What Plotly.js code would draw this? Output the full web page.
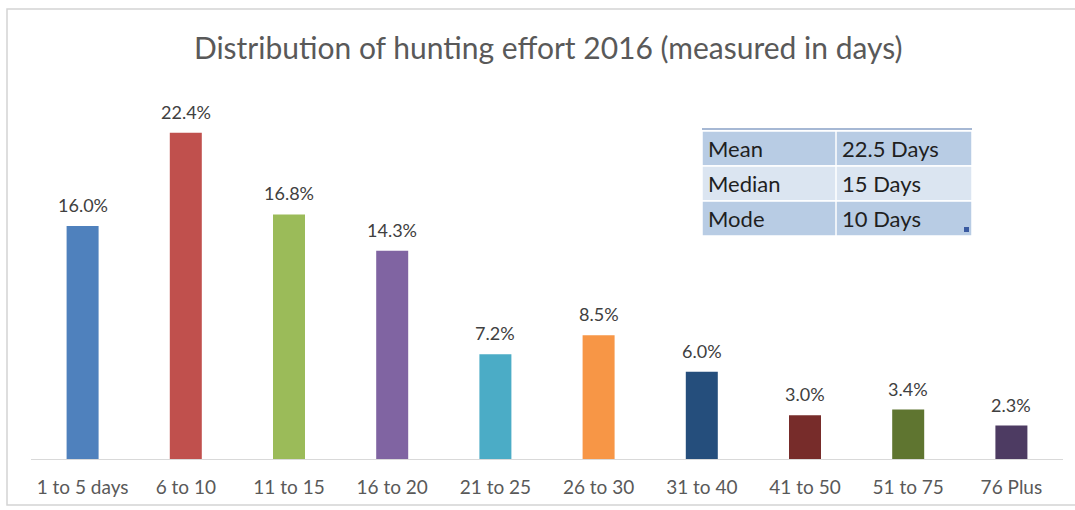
<!DOCTYPE html>
<html>
<head>
<meta charset="utf-8">
<script src="https://cdn.plot.ly/plotly-3.0.1.min.js"></script>
<style>html,body{margin:0;padding:0;background:#fff;}#chart{width:1075px;height:510px;}</style>
</head>
<body>
<div id="chart"></div>
<script>
const categories = ["1 to 5 days","6 to 10","11 to 15","16 to 20","21 to 25","26 to 30","31 to 40","41 to 50","51 to 75","76 Plus"];
const shares = [16.0, 22.4, 16.8, 14.3, 7.2, 8.5, 6.0, 3.0, 3.4, 2.3];
const barColors = ["#4f81bd","#c0504d","#9bbb59","#8064a2","#4bacc6","#f79646","#254e7c","#772c2a","#5f7530","#4d3b62"];
const statLabels = ["Mean","Median","Mode"];
const statValues = ["22.5 Days","15 Days","10 Days"];

const W = 1075, H = 510;
const M = {l: 31, r: 12, t: 100, b: 51};
const PW = W - M.l - M.r, PH = H - M.t - M.b;
const px = x => (x - M.l) / PW;
const py = y => (H - M.b - y) / PH;

const FONT = "Lato, 'Open Sans', sans-serif";

const trace = {
  type: "bar",
  x: categories,
  y: shares,
  marker: {color: barColors},
  hoverinfo: "x+y",
  cliponaxis: false
};

const annotations = categories.map((c, i) => ({
  x: c, y: shares[i], xref: "x", yref: "y",
  text: shares[i].toFixed(1) + "%",
  showarrow: false, yanchor: "bottom", yshift: 8,
  font: {family: FONT, size: 18, color: "#404040"}
}));

const shapes = [];
// outer frame
shapes.push({type: "rect", xref: "paper", yref: "paper", x0: px(7), x1: px(1080), y0: py(505), y1: py(9),
  line: {color: "#d4d4d4", width: 1.5}, fillcolor: "rgba(0,0,0,0)", layer: "below"});

// stats table
const tx0 = 702, tx1 = 972, tmid = 836, ty0 = 131, rowH = 35;
const rowFills = ["#b8cce4", "#dbe5f1", "#b8cce4"];
statLabels.forEach((lab, i) => {
  const y0 = ty0 + i * rowH, y1 = y0 + rowH;
  shapes.push({type: "rect", xref: "paper", yref: "paper", x0: px(tx0), x1: px(tx1), y0: py(y1), y1: py(y0),
    line: {color: "#ffffff", width: 1.5}, fillcolor: rowFills[i]});
  annotations.push({xref: "paper", yref: "paper", x: px(tx0 + 4), y: py((y0 + y1) / 2), xanchor: "left", yanchor: "middle",
    text: lab, showarrow: false, font: {family: FONT, size: 22, color: "#1f1f1f"}});
  annotations.push({xref: "paper", yref: "paper", x: px(tmid + 4), y: py((y0 + y1) / 2), xanchor: "left", yanchor: "middle",
    text: statValues[i], showarrow: false, font: {family: FONT, size: 22, color: "#1f1f1f"}});
});
shapes.push({type: "line", xref: "paper", yref: "paper", x0: px(tmid), x1: px(tmid), y0: py(ty0 + 3 * rowH), y1: py(ty0),
  line: {color: "#ffffff", width: 1.5}});
shapes.push({type: "line", xref: "paper", yref: "paper", x0: px(tx0), x1: px(tx1), y0: py(ty0 - 2), y1: py(ty0 - 2),
  line: {color: "#a6b8d4", width: 2}});
shapes.push({type: "rect", xref: "paper", yref: "paper", x0: px(964), x1: px(969), y0: py(232), y1: py(227),
  line: {width: 0}, fillcolor: "#3a5aa0"});

const layout = {
  width: W, height: H,
  margin: M,
  paper_bgcolor: "#ffffff",
  plot_bgcolor: "#ffffff",
  showlegend: false,
  bargap: 0.69,
  title: {
    text: "Distribution of hunting effort 2016 (measured in days)",
    font: {family: FONT, size: 30, color: "#595959"},
    x: 0.51, xanchor: "center", y: 1 - 48 / H, yanchor: "middle"
  },
  xaxis: {
    type: "category",
    showline: true, linecolor: "#d9d9d9", linewidth: 1,
    ticks: "", showgrid: false, zeroline: false,
    tickfont: {family: FONT, size: 19, color: "#595959"},
    ticklabelstandoff: 11,
    fixedrange: true
  },
  yaxis: {
    range: [0, PH / 14.56],
    visible: false, showgrid: false, zeroline: false,
    fixedrange: true
  },
  shapes: shapes,
  annotations: annotations
};

Plotly.newPlot("chart", [trace], layout, {displayModeBar: false, staticPlot: true});
</script>
</body>
</html>
